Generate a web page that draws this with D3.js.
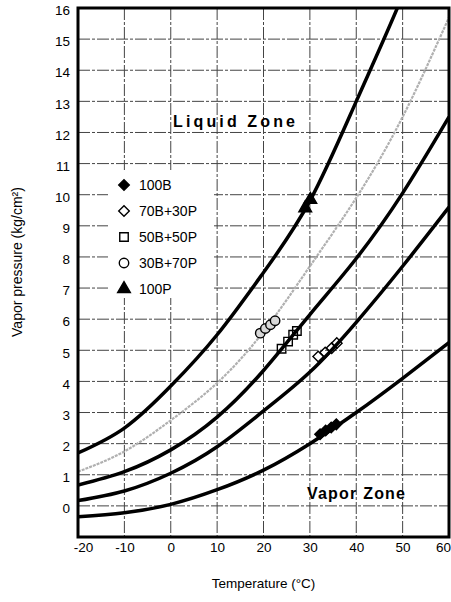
<!DOCTYPE html>
<html>
<head>
<meta charset="utf-8">
<script src="https://cdn.jsdelivr.net/npm/d3@7"></script>
<style>
	body { margin: 0; background: #fff; }
	text { font-family: "Liberation Sans", Arial, sans-serif; }
</style>
</head>
<body>
<div id="chart"><svg width="451" height="602"></svg></div>
<script>
var temps = [-20, -10, 0, 10, 20, 30, 40, 50, 60];

// vapor pressure curves (kg/cm2)
var p100P    = [1.7, 2.5, 3.85, 5.5, 7.5, 9.8, 13.0, 16.4, 20.2];
var p30B70P  = [1.1, 1.75, 2.75, 3.95, 5.6, 7.7, 9.9, 12.5, 15.7];
var p50B50P  = [0.67, 1.1, 1.8, 2.85, 4.35, 6.15, 7.95, 10.05, 12.5];
var p70B30P  = [0.17, 0.48, 1.05, 1.9, 3.05, 4.3, 5.9, 7.7, 9.6];
var p100B    = [-0.35, -0.22, 0.05, 0.52, 1.15, 2.0, 3.0, 4.1, 5.25];

// measured points [temp, pressure]
var pts100B   = [[32.2, 2.3], [33.4, 2.42], [34.6, 2.52], [35.7, 2.62]];
var pts70B30P = [[31.8, 4.8], [33.3, 4.93], [34.7, 5.07], [35.8, 5.23]];
var pts50B50P = [[23.9, 5.05], [25.3, 5.28], [26.4, 5.5], [27.2, 5.62]];
var pts30B70P = [[19.3, 5.55], [20.4, 5.7], [21.5, 5.82], [22.5, 5.95]];
var pts100P   = [[29.0, 9.57], [30.1, 9.84]];

var legendNames = ["100B", "70B+30P", "50B+50P", "30B+70P", "100P"];
var xTicks = [-20, -10, 0, 10, 20, 30, 40, 50, 60];
var yTicks = [0, 1, 2, 3, 4, 5, 6, 7, 8, 9, 10, 11, 12, 13, 14, 15, 16];

var svg = d3.select("#chart").select("svg");

var plotL = 78, plotR = 449, plotT = 8, plotB = 537;

var xScale = d3.scaleLinear()
				.domain([-20, 60])
				.range([plotL, plotR]);

var yScale = d3.scaleLinear()
				.domain([-1, 16])
				.range([plotB, plotT]);

svg.append("defs")
	.append("clipPath")
	.attr("id", "plotclip")
	.append("rect")
	.attr("x", plotL)
	.attr("y", plotT)
	.attr("width", plotR - plotL)
	.attr("height", plotB - plotT);

// grid
svg.append("g")
	.selectAll("line")
	.data(d3.range(0, 16))
	.enter()
	.append("line")
	.attr("x1", plotL).attr("x2", plotR)
	.attr("y1", d => yScale(d)).attr("y2", d => yScale(d))
	.attr("stroke", "#444")
	.attr("stroke-width", 1)
	.attr("stroke-dasharray", "12,2,3,2");

svg.append("g")
	.selectAll("line")
	.data(xTicks.slice(1, -1))
	.enter()
	.append("line")
	.attr("x1", d => xScale(d)).attr("x2", d => xScale(d))
	.attr("y1", plotT).attr("y2", plotB)
	.attr("stroke", "#444")
	.attr("stroke-width", 1)
	.attr("stroke-dasharray", "12,2,3,2");

// axes
var xAxis = d3.axisBottom(xScale).tickValues(xTicks).tickSize(0).tickPadding(5).tickFormat(d => String(d));
var yAxis = d3.axisLeft(yScale).tickValues(yTicks).tickSize(0).tickPadding(8).tickFormat(d => String(d));

svg.append("g")
	.attr("transform", "translate(0," + plotB + ")")
	.call(xAxis)
	.call(g => g.select(".domain").remove())
	.selectAll("text")
	.attr("font-size", "13.5px")
	.attr("fill", "#000")
	.attr("dx", d => d == -20 ? 5 : (d == 60 ? -6 : 0));

svg.append("g")
	.attr("transform", "translate(" + plotL + ",0)")
	.call(yAxis)
	.call(g => g.select(".domain").remove())
	.selectAll("text")
	.attr("font-size", "13.5px")
	.attr("fill", "#000")
	.attr("dy", "0.5em");

// curves
var line = d3.line()
			.x(d => xScale(d[0]))
			.y(d => yScale(d[1]))
			.curve(d3.curveNatural);

var curves = svg.append("g").attr("clip-path", "url(#plotclip)");

curves.append("path")
	.datum(temps.map((t, i) => [t, p30B70P[i]]))
	.attr("d", line)
	.attr("fill", "none")
	.attr("stroke", "#b0b0b0")
	.attr("stroke-width", 2.2)
	.attr("stroke-dasharray", "3,1");

[p100P, p50B50P, p70B30P, p100B].forEach(function(series){
	curves.append("path")
		.datum(temps.map((t, i) => [t, series[i]]))
		.attr("d", line)
		.attr("fill", "none")
		.attr("stroke", "#000")
		.attr("stroke-width", 3.5);
});

// frame
svg.append("rect")
	.attr("x", plotL)
	.attr("y", plotT)
	.attr("width", plotR - plotL)
	.attr("height", plotB - plotT)
	.attr("fill", "none")
	.attr("stroke", "#000")
	.attr("stroke-width", 3);

// markers
var diamond = d3.symbol().type(d3.symbolSquare).size(56);
var square = d3.symbol().type(d3.symbolSquare).size(72);
var circle = d3.symbol().type(d3.symbolCircle).size(70);
var triangle = d3.symbol().type(d3.symbolTriangle).size(70);

var markerStyles = [
	{pts: pts30B70P, sym: circle, rot: 0, fill: "#d8d8d8"},
	{pts: pts50B50P, sym: square, rot: 0, fill: "none"},
	{pts: pts70B30P, sym: diamond, rot: 45, fill: "none"},
	{pts: pts100B, sym: diamond, rot: 45, fill: "#000"},
	{pts: pts100P, sym: triangle, rot: 0, fill: "#000"}
];

markerStyles.forEach(function(m){
	svg.append("g")
		.selectAll("path")
		.data(m.pts)
		.enter()
		.append("path")
		.attr("d", m.sym)
		.attr("transform", d => "translate(" + xScale(d[0]) + "," + yScale(d[1]) + ") rotate(" + m.rot + ")")
		.attr("fill", m.fill)
		.attr("stroke", "#000")
		.attr("stroke-width", 1.4);
});

// legend
var legendSyms = [
	{sym: diamond, rot: 45, fill: "#000"},
	{sym: diamond, rot: 45, fill: "#fff"},
	{sym: square, rot: 0, fill: "#fff"},
	{sym: circle, rot: 0, fill: "#fff"},
	{sym: triangle, rot: 0, fill: "#000"}
];
var legendY = [185, 211, 237, 263, 289];

var legend = svg.append("g");

legend.append("rect")
	.attr("x", 108)
	.attr("y", 170)
	.attr("width", 106)
	.attr("height", 128)
	.attr("fill", "#fff");

legend.selectAll("path")
	.data(legendNames)
	.enter()
	.append("path")
	.attr("d", (d, i) => legendSyms[i].sym())
	.attr("transform", (d, i) => "translate(124," + legendY[i] + ") rotate(" + legendSyms[i].rot + ")")
	.attr("fill", (d, i) => legendSyms[i].fill)
	.attr("stroke", "#000")
	.attr("stroke-width", 1.4);

legend.selectAll("text")
	.data(legendNames)
	.enter()
	.append("text")
	.attr("x", 139)
	.attr("y", (d, i) => legendY[i])
	.attr("dy", "0.36em")
	.attr("font-size", "14px")
	.text(d => d);

// zone labels
svg.append("text")
	.attr("x", 173)
	.attr("y", 127)
	.attr("font-size", "16px")
	.attr("font-weight", "bold")
	.attr("textLength", 122)
	.attr("lengthAdjust", "spacing")
	.text("Liquid Zone");

svg.append("text")
	.attr("x", 307)
	.attr("y", 499)
	.attr("font-size", "16px")
	.attr("font-weight", "bold")
	.attr("textLength", 98)
	.attr("lengthAdjust", "spacing")
	.text("Vapor Zone");

// axis titles
svg.append("text")
	.attr("x", (plotL + plotR) / 2)
	.attr("y", 588)
	.attr("text-anchor", "middle")
	.attr("font-size", "13.5px")
	.text("Temperature (\u00B0C)");

svg.append("text")
	.attr("transform", "translate(22,262) rotate(-90)")
	.attr("text-anchor", "middle")
	.attr("font-size", "14px")
	.text("Vapor pressure (kg/cm\u00B2)");
</script>
</body>
</html>
